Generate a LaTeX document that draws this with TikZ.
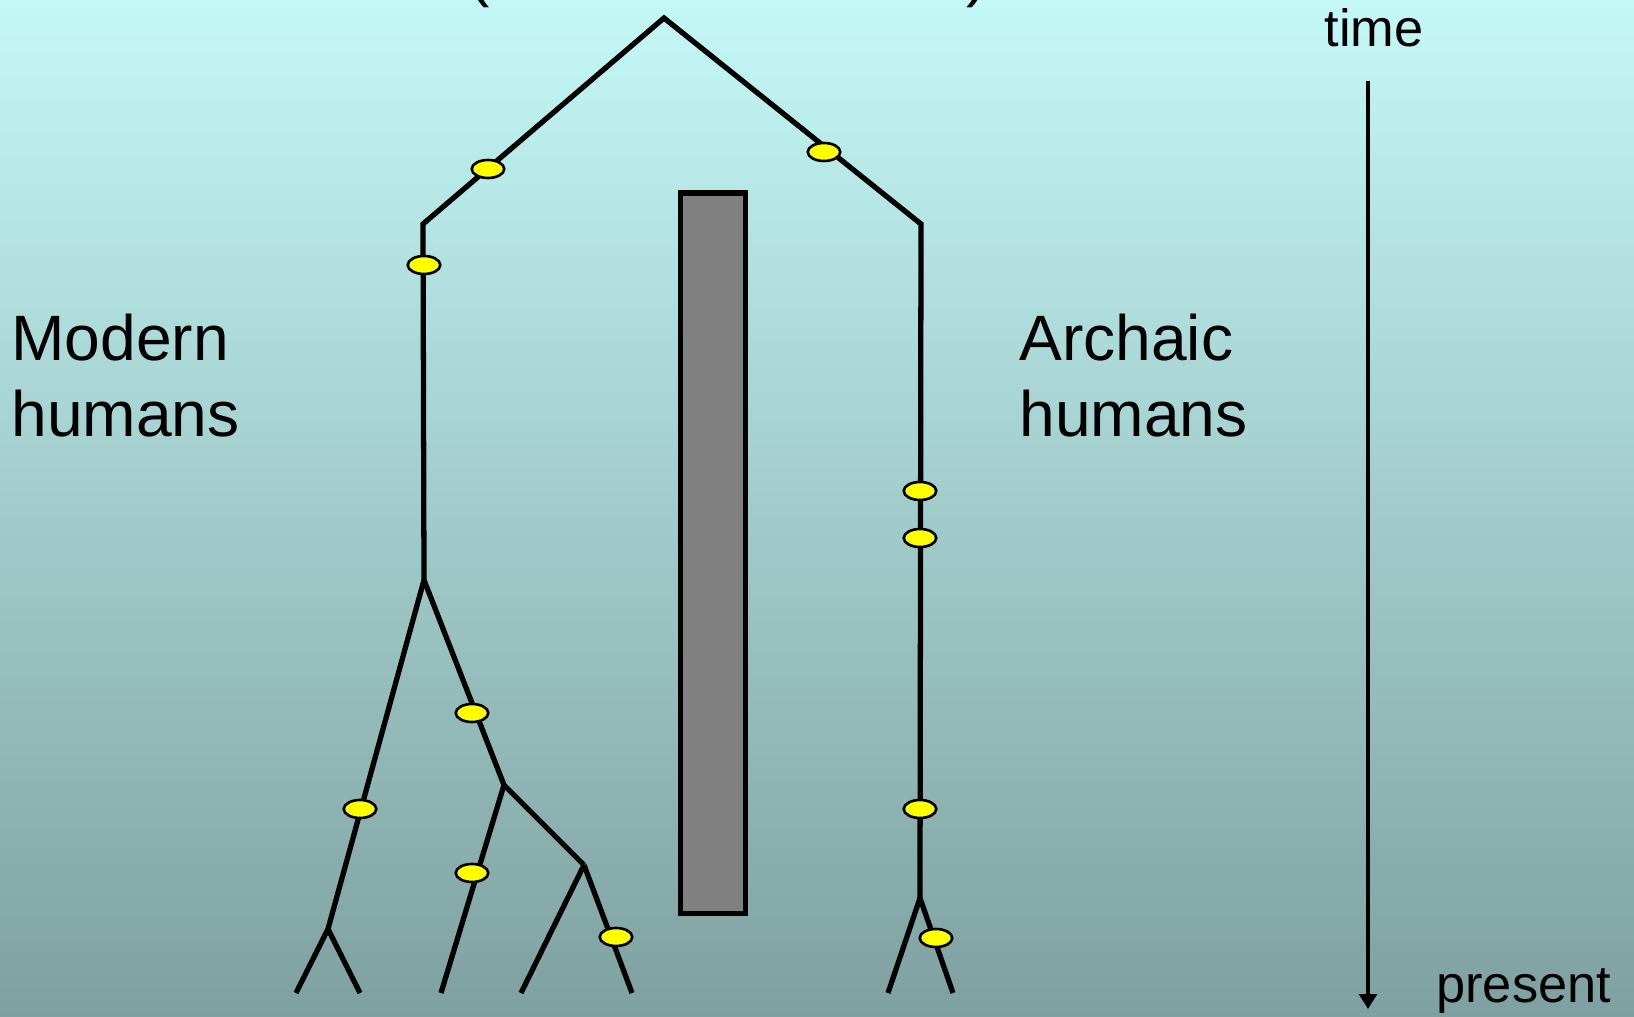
\documentclass[tikz,border=0pt]{standalone}
\usepackage{fontspec}
\setmainfont{Liberation Sans}
\usetikzlibrary{arrows.meta,shapes.geometric}
\definecolor{BgTop}{RGB}{196,248,246}
\definecolor{BgBot}{RGB}{127,160,160}
\definecolor{Gap}{RGB}{128,128,128}
\definecolor{Mut}{RGB}{255,255,0}
\newcommand{\labelfont}{\fontsize{36.5pt}{43.2pt}\selectfont}
\newcommand{\axisfont}{\fontsize{29.8pt}{35pt}\selectfont}
\begin{document}
\begin{tikzpicture}[x=0.02cm,y=-0.02cm,
    branch/.style={line width=3pt},
    mut/.style={ellipse,draw=black,fill=Mut,line width=1.5pt,
      minimum width=0.65cm,minimum height=0.36cm,inner sep=0pt},
    lbl/.style={inner sep=0pt,align=left,anchor=north west}]
  \useasboundingbox (0,0) rectangle (1634,1017);
  \shade[top color=BgTop,bottom color=BgBot] (0,0) rectangle (1634,1017);
  \labelfont
  % cut-off title
  \node[inner sep=0pt,anchor=base west] (parL) at (468,-5) {(};
  \node[inner sep=0pt,anchor=base west] (parR) at (966,-5) {)};
  % branch points of the tree
  \foreach \name/\x/\y in {
    root/664/18, mTop/423/224, mSplit/424/580,
    aFork/328/929, aLeafL/296/993, aLeafR/360/993,
    bFork/504/785, bLeaf/441/993,
    cFork/584/865, cLeafL/521/993, cLeafR/632/993,
    rTop/921/224, rFork/920/898, rLeafL/888/993, rLeafR/953/993}
  {
    \coordinate (\name) at (\x,\y);
  }
  \draw[branch] (mSplit) -- (mTop) -- (root) -- (rTop) -- (rFork);
  \foreach \a/\b in {mSplit/aFork, aFork/aLeafL, aFork/aLeafR,
    mSplit/bFork, bFork/bLeaf, bFork/cFork, cFork/cLeafL, cFork/cLeafR,
    rFork/rLeafL, rFork/rLeafR}
    \draw[branch] (\a) -- (\b);
  % barrier
  \draw[line width=2.85pt,fill=Gap] (680,193) rectangle (745,913);
  % mutations
  \foreach \name/\x/\y in {
    m1/488/169, m2/424/265, m3/472/713, m4/360/809, m5/472/873, m6/616/937,
    r1/824/152, r2/920/491, r3/920/538, r4/920/809, r5/936/938}
    \node[mut] (\name) at (\x,\y) {};
  % labels
  \node[lbl] (modern) at (11,314) {Modern\\humans};
  \node[lbl] (archaic) at (1019,314) {Archaic\\humans};
  % time axis
  \axisfont
  \coordinate (tStart) at (1368,81);
  \coordinate (tEnd) at (1368,1009);
  \draw[line width=2.6pt,-{Triangle[width=10pt,length=8.5pt]}] (tStart) -- (tEnd);
  \node[inner sep=0pt,anchor=base] (time) at (1374,47) {time};
  \node[inner sep=0pt,anchor=base west] (present) at (1436,1002) {present};
\end{tikzpicture}
\end{document}
